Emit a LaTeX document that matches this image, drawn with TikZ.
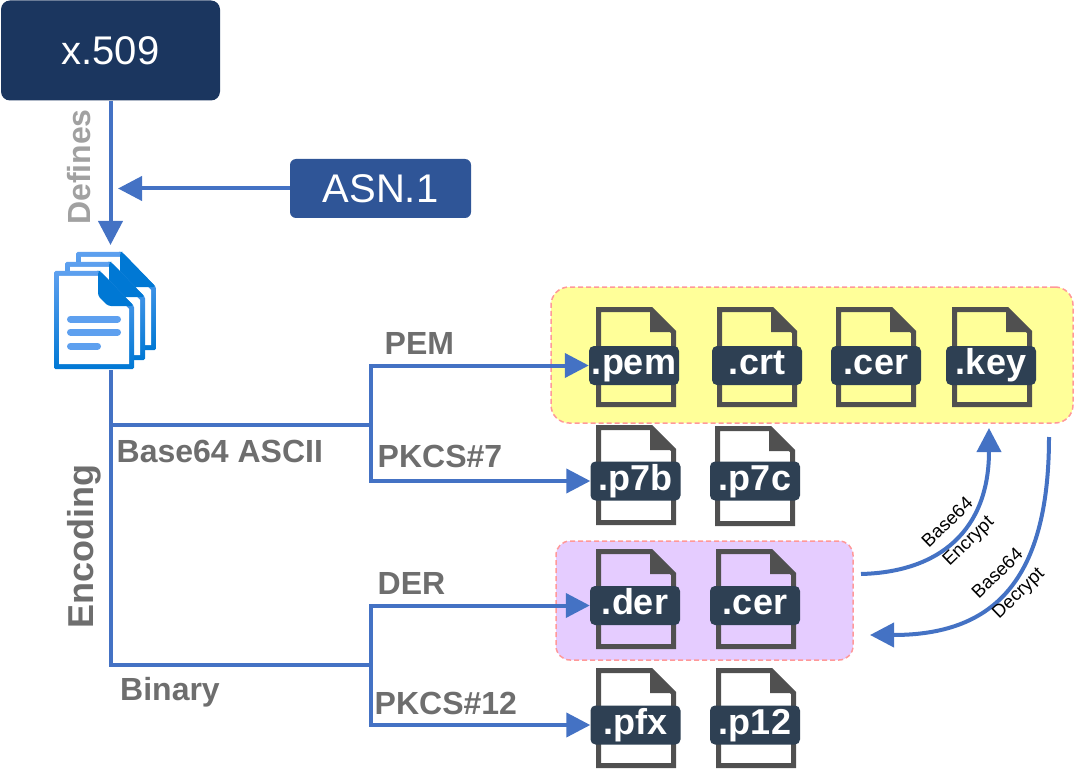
\documentclass[tikz,border=0pt]{standalone}
\usepackage{fontspec}
\setmainfont{Liberation Sans}
\usetikzlibrary{arrows.meta}

\definecolor{navy_box}{HTML}{1B365F}
\definecolor{asn_box}{HTML}{2F5597}
\definecolor{tag_dark}{HTML}{2E4053}
\definecolor{line_blue}{HTML}{4472C4}
\definecolor{file_grey}{HTML}{505050}
\definecolor{label_grey}{HTML}{6E6E6E}
\definecolor{doc_light}{HTML}{5EA0EF}
\definecolor{doc_dark}{HTML}{0078D4}
\definecolor{group_yellow}{HTML}{FFFF99}
\definecolor{group_purple}{HTML}{E5CCFF}
\definecolor{group_dash}{HTML}{FF9999}

% \fileicon{name_of_node}{left}{top}{tag centre x}{tag centre y}{text}
\newcommand{\fileicon}[6]{
\draw[file_line] (#2+2.5,#3+2.5) -- (#2+55,#3+2.5) -- (#2+77.5,#3+25) -- (#2+77.5,#3+97.5) -- (#2+2.5,#3+97.5) -- cycle;
\fill[file_grey] (#2+54,#3) -- (#2+80,#3+25) -- (#2+54,#3+25) -- cycle;
\node[file_tag](#1) at (#4,#5) {#6};
}
% \docpage{left}{top} : one sheet of the stack, 80 wide and 98 high
\newcommand{\docpage}[2]{
\shade[top color=doc_light, bottom color=doc_dark, rounded corners=1.5] (#1,#2) -- (#1+46,#2) -- (#1+80,#2+35) -- (#1+80,#2+98) -- (#1,#2+98) -- cycle;
\fill[white] (#1+5,#2+5) -- (#1+44,#2+5) -- (#1+75,#2+38) -- (#1+75,#2+93) -- (#1+5,#2+93) -- cycle;
\fill[doc_dark, rounded corners=3] (#1+44,#2) -- (#1+46,#2) -- (#1+80,#2+35) -- (#1+54,#2+35) -- (#1+44,#2+25) -- cycle;
}

\begin{document}
\begin{tikzpicture}[
x=1pt, y=-1pt,
title_box/.style={rectangle, rounded corners=9pt, fill=navy_box, text=white, inner sep=0pt, minimum width=219pt, minimum height=100pt, font=\fontsize{40}{40}\selectfont},
asn_square/.style={rectangle, rounded corners=6pt, fill=asn_box, text=white, inner sep=0pt, minimum width=181pt, minimum height=59pt, font=\fontsize{40}{40}\selectfont},
file_tag/.style={rectangle, rounded corners=5pt, fill=tag_dark, text=white, inner sep=0pt, minimum width=90pt, minimum height=39pt, text height=24pt, text depth=6pt, font=\fontsize{36}{36}\selectfont\bfseries},
file_line/.style={draw=file_grey, line width=5pt, miter limit=2},
yellow_group/.style={rectangle, rounded corners=18pt, draw=group_dash, dash pattern=on 5pt off 3pt, line width=1.5pt, fill=group_yellow, inner sep=0pt, minimum width=522pt, minimum height=136pt},
purple_group/.style={rectangle, rounded corners=14pt, draw=group_dash, dash pattern=on 5pt off 3pt, line width=1.5pt, fill=group_purple, inner sep=0pt, minimum width=297pt, minimum height=119pt},
out_arrow/.style={-{Triangle[length=24pt,width=24pt]}, draw=line_blue, line width=4pt},
plain_line/.style={draw=line_blue, line width=4pt},
grey_text/.style={text=label_grey, inner sep=0pt, anchor=base west, font=\fontsize{32}{32}\selectfont\bfseries},
side_text/.style={text=label_grey, inner sep=0pt, rotate=90},
small_text/.style={inner sep=0pt, rotate=44, font=\fontsize{18.5}{18.5}\selectfont}
]
\useasboundingbox (0,0) rectangle (1074,770);

% groups first, files on top of them
\node[yellow_group](pem_group) at (812,355) {};
\node[purple_group](der_group) at (704.5,600.5) {};

\node[title_box](x509) at (110.5,50.5) {x.509};
\node[asn_square](asn) at (380.5,188.5) {ASN.1};

% document stack
\docpage{76}{252}
\docpage{65}{262}
\docpage{54}{271}
\draw[doc_light, line width=7pt, line cap=round] (70.5,319) -- (117.5,319);
\draw[doc_light, line width=7pt, line cap=round] (70.5,332) -- (117.5,332);
\draw[doc_light, line width=7pt, line cap=round] (70.5,346) -- (97.5,346);

\fileicon{pem}{596}{307}{634}{365.5}{.pem}
\fileicon{crt}{717}{307}{757}{365.5}{.crt}
\fileicon{cer_a}{836}{307}{876}{365.5}{.cer}
\fileicon{key}{952}{307}{991}{365.5}{.key}
\fileicon{p7b}{596}{425}{635.5}{481}{.p7b}
\fileicon{p7c}{715}{426}{755}{481}{.p7c}
\fileicon{der}{596}{549}{635}{605.5}{.der}
\fileicon{cer_b}{716}{549}{755}{605.5}{.cer}
\fileicon{pfx}{596}{668}{635.5}{725}{.pfx}
\fileicon{p12}{716}{668}{755}{725}{.p12}

\coordinate(doc_top) at (110.5,245);
\coordinate(doc_bottom) at (110.5,370);
\coordinate(asn_end) at (118,188.5);
\coordinate(base_turn) at (110.5,425);
\coordinate(bin_turn) at (110.5,664.5);
\coordinate(base_split) at (371,425);
\coordinate(bin_split) at (371,664.5);
\coordinate(enc_start) at (861,574);
\coordinate(enc_end) at (989,428);
\coordinate(dec_start) at (1049,437);
\coordinate(dec_end) at (870,635);

\draw[out_arrow](x509.south) -- (doc_top);
\draw[out_arrow](asn.west) -- (asn_end);
\draw[plain_line](doc_bottom) -- (bin_turn) -- (bin_split);
\draw[plain_line](base_turn) -- (base_split);
\draw[out_arrow](base_split) |- (pem.west);
\draw[out_arrow](base_split) |- (p7b.west);
\draw[out_arrow](bin_split) |- (der.west);
\draw[out_arrow](bin_split) |- (pfx.west);
\draw[out_arrow](enc_start) .. controls (940,572) and (989,530) .. (enc_end);
\draw[out_arrow](dec_start) .. controls (1049,585) and (990,635) .. (dec_end);

\node[side_text, text=label_grey!65, font=\fontsize{32}{32}\selectfont\bfseries](defines) at (79,167) {Defines};
\node[side_text, font=\fontsize{36}{36}\selectfont\bfseries](encoding) at (84,547) {Encoding};
\node[grey_text](base_label) at (116.5,462) {Base64 ASCII};
\node[grey_text](binary_label) at (120,700) {Binary};
\node[grey_text](pem_label) at (384.5,354) {PEM};
\node[grey_text](p7_label) at (377.5,467) {PKCS\#7};
\node[grey_text](der_label) at (377.5,594) {DER};
\node[grey_text](p12_label) at (374.5,714) {PKCS\#12};

\node[small_text](enc_a) at (947,522) {Base64};
\node[small_text](enc_b) at (969,542) {Encrypt};
\node[small_text](dec_a) at (997,573) {Base64};
\node[small_text](dec_b) at (1019,594) {Decrypt};
\end{tikzpicture}
\end{document}
